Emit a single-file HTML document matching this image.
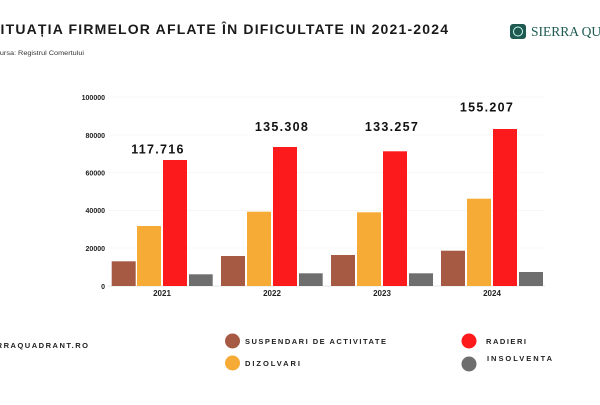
<!DOCTYPE html>
<html><head><meta charset="utf-8"><style>
body{margin:0;width:600px;height:400px;background:#fff;overflow:hidden;font-family:"Liberation Sans",sans-serif}
</style></head><body>
<svg width="600" height="400" xmlns="http://www.w3.org/2000/svg" font-family="Liberation Sans, sans-serif">
<text x="-10" y="34" font-size="14" font-weight="bold" textLength="458" lengthAdjust="spacing" fill="#1a1a1a">SITUAȚIA FIRMELOR AFLATE ÎN DIFICULTATE IN 2021-2024</text>
<text x="-5" y="55" font-size="6.5" textLength="89" lengthAdjust="spacingAndGlyphs" fill="#333">Sursa: Registrul Comertului</text>
<rect x="510" y="24" width="16" height="15" rx="3" fill="#1e5a52"/>
<circle cx="518" cy="31.5" r="4.5" fill="none" stroke="#cfe" stroke-width="1"/>
<text x="531" y="36" font-family="Liberation Serif, serif" font-size="13.5" fill="#1e5a52">SIERRA QUADRANT</text>
<g stroke="#f2f2f2" stroke-width="0.6">
<line x1="108" y1="97" x2="545" y2="97"/><line x1="108" y1="135" x2="545" y2="135"/><line x1="108" y1="172.7" x2="545" y2="172.7"/><line x1="108" y1="210.4" x2="545" y2="210.4"/><line x1="108" y1="248" x2="545" y2="248"/>
</g>
<line x1="108" y1="286" x2="545" y2="286" stroke="#ccc" stroke-width="0.6"/>
<g font-size="7" font-weight="bold" fill="#222" text-anchor="end">
<text x="105" y="100">100000</text><text x="105" y="138">80000</text><text x="105" y="175.5">60000</text><text x="105" y="213">40000</text><text x="105" y="251">20000</text><text x="105" y="289">0</text>
</g>
<g>
<rect x="111.7" y="261.3" width="24" height="24.7" fill="#a65a43"/><rect x="137" y="226" width="24" height="60" fill="#f5ab35"/><rect x="163" y="160" width="24" height="126" fill="#fd1a1c"/><rect x="189" y="274.3" width="23.7" height="11.7" fill="#6e6e6e"/>
<rect x="221" y="256" width="24" height="30" fill="#a65a43"/><rect x="247" y="211.7" width="24" height="74.3" fill="#f5ab35"/><rect x="273" y="147" width="24" height="139" fill="#fd1a1c"/><rect x="299" y="273.3" width="23.7" height="12.7" fill="#6e6e6e"/>
<rect x="331" y="255" width="24" height="31" fill="#a65a43"/><rect x="357" y="212.3" width="24" height="73.7" fill="#f5ab35"/><rect x="383" y="151.3" width="24" height="134.7" fill="#fd1a1c"/><rect x="409" y="273.3" width="24" height="12.7" fill="#6e6e6e"/>
<rect x="441" y="250.7" width="24" height="35.3" fill="#a65a43"/><rect x="467" y="198.7" width="24" height="87.3" fill="#f5ab35"/><rect x="493" y="129" width="24" height="157" fill="#fd1a1c"/><rect x="519" y="272" width="24" height="14" fill="#6e6e6e"/>
</g>
<g font-size="8" font-weight="bold" fill="#222" text-anchor="middle">
<text x="162" y="296">2021</text><text x="272" y="296">2022</text><text x="382" y="296">2023</text><text x="492" y="296">2024</text>
</g>
<g font-size="12.5" font-weight="bold" fill="#111" text-anchor="middle" letter-spacing="1.3">
<text x="158" y="153.5">117.716</text><text x="282" y="131">135.308</text><text x="392" y="131">133.257</text><text x="487" y="111.5">155.207</text>
</g>
<text x="-20" y="348" font-size="7.5" font-weight="bold" textLength="108" lengthAdjust="spacing" fill="#222">SIERRAQUADRANT.RO</text>
<circle cx="232.5" cy="341" r="7.5" fill="#a65a43"/><circle cx="232.5" cy="363" r="7.5" fill="#f5ab35"/>
<circle cx="469" cy="341" r="7.5" fill="#fd1a1c"/><circle cx="469" cy="364" r="7.5" fill="#6e6e6e"/>
<g font-size="7.5" font-weight="bold" fill="#222">
<text x="245" y="344" textLength="141" lengthAdjust="spacing">SUSPENDARI DE ACTIVITATE</text><text x="245" y="366" textLength="55" lengthAdjust="spacing">DIZOLVARI</text>
<text x="486" y="344" textLength="40" lengthAdjust="spacing">RADIERI</text><text x="487" y="361" textLength="65" lengthAdjust="spacing">INSOLVENTA</text>
</g>
</svg>
</body></html>
